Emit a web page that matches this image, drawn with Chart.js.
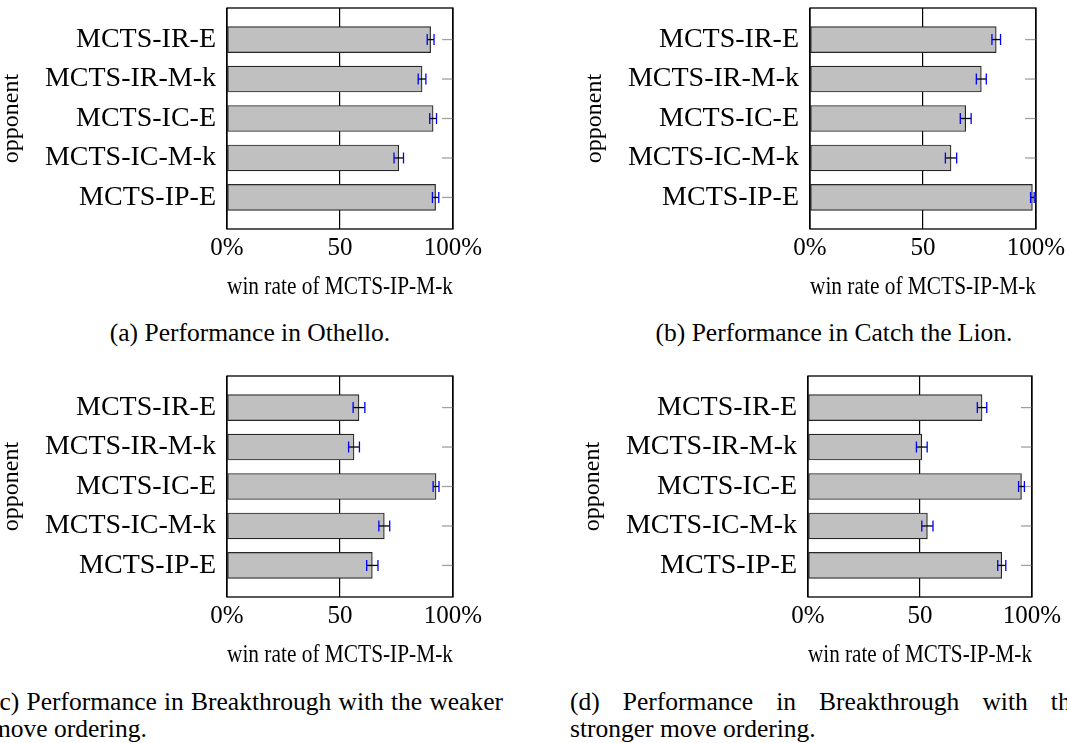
<!DOCTYPE html>
<html><head><meta charset="utf-8">
<script src="https://cdn.jsdelivr.net/npm/chart.js@4.4.1/dist/chart.umd.min.js"></script>
<style>
html,body{margin:0;padding:0;background:#fff;width:1067px;height:743px;overflow:hidden;position:relative;font-family:'Liberation Serif',serif;}
.panel{position:absolute;height:300px;}
.cap{position:absolute;font-size:25.5px;line-height:27px;color:#000;white-space:nowrap;}
.just{text-align:justify;text-align-last:justify;}
</style></head><body>
<div class="panel" style="left:0;top:0;width:533px"><canvas id="ca"></canvas></div>
<div class="panel" style="left:583px;top:0;width:484px"><canvas id="cb"></canvas></div>
<div class="panel" style="left:0;top:368px;width:533px"><canvas id="cc"></canvas></div>
<div class="panel" style="left:581px;top:368px;width:486px"><canvas id="cd"></canvas></div>

<div class="cap" style="left:0;top:319px;width:500px;text-align:center">(a) Performance in Othello.</div>
<div class="cap" style="left:584px;top:319px;width:500px;text-align:center">(b) Performance in Catch the Lion.</div>
<div class="cap" style="left:-9px;top:688px;width:512px"><div class="just">(c) Performance in Breakthrough with the weaker</div><div>move ordering.</div></div>
<div class="cap" style="left:570px;top:688px;width:512px"><div class="just">(d) Performance in Breakthrough with the</div><div>stronger move ordering.</div></div>

<script>
const categories = ['MCTS-IR-E', 'MCTS-IR-M-k', 'MCTS-IC-E', 'MCTS-IC-M-k', 'MCTS-IP-E'];
const xTickValues = [0, 50, 100];
const xTickLabels = ['0%', '50', '100%'];

const othelloWin = [90.1, 86.3, 91.2, 76.0, 92.3];
const othelloErr = [1.5, 1.7, 1.5, 2.1, 1.4];
const lionWin = [82.4, 75.8, 68.9, 62.4, 98.4];
const lionErr = [1.9, 2.2, 2.4, 2.5, 0.8];
const btWeakWin = [58.4, 56.2, 92.5, 69.6, 64.3];
const btWeakErr = [2.6, 2.4, 1.3, 2.4, 2.5];
const btStrongWin = [77.7, 50.8, 95.3, 53.3, 86.5];
const btStrongErr = [2.1, 2.4, 1.3, 2.5, 1.8];

const FONT = "'Liberation Serif', serif";
Chart.defaults.font.family = FONT;
Chart.defaults.color = '#000';

const errorBars = {
  id: 'errorBars',
  afterDatasetsDraw(chart) {
    const {ctx, scales: {x, y}} = chart;
    const ds = chart.data.datasets[0];
    ctx.save();
    ds.data.forEach((p, i) => {
      const yp = y.getPixelForValue(p.y);
      const x1 = x.getPixelForValue(p.x - ds.errors[i]);
      const x2 = x.getPixelForValue(p.x + ds.errors[i]);
      ctx.lineWidth = 1.3;
      ctx.strokeStyle = '#000';
      ctx.beginPath(); ctx.moveTo(x1, yp); ctx.lineTo(x2, yp); ctx.stroke();
      ctx.strokeStyle = '#0000ff';
      ctx.beginPath();
      ctx.moveTo(x1, yp - 5.5); ctx.lineTo(x1, yp + 5.5);
      ctx.moveTo(x2, yp - 5.5); ctx.lineTo(x2, yp + 5.5);
      ctx.stroke();
    });
    ctx.restore();
  }
};

const frame = {
  id: 'frame',
  beforeDatasetsDraw(chart) {
    const {ctx, chartArea: a, scales: {y}} = chart;
    ctx.save();
    ctx.strokeStyle = '#a0a0a0';
    ctx.lineWidth = 1.3;
    y.ticks.forEach(t => {
      const yp = y.getPixelForValue(t.value);
      ctx.beginPath(); ctx.moveTo(a.right - 11, yp); ctx.lineTo(a.right, yp); ctx.stroke();
    });
    ctx.restore();
  },
  afterDraw(chart) {
    const {ctx, chartArea: a} = chart;
    ctx.save();
    ctx.strokeStyle = '#000';
    ctx.lineWidth = 1.3;
    ctx.strokeRect(a.left, a.top, a.right - a.left, a.bottom - a.top);
    ctx.restore();
  }
};

function makeChart(id, values, errors, rightPad) {
  new Chart(document.getElementById(id), {
    type: 'bar',
    data: {
      datasets: [{
        data: values.map((v, i) => ({x: v, y: i})),
        errors: errors,
        backgroundColor: '#c0c0c0',
        borderColor: '#262626',
        borderWidth: 1.2,
        borderSkipped: false,
        barThickness: 26
      }]
    },
    options: {
      indexAxis: 'y',
      responsive: true,
      maintainAspectRatio: false,
      animation: false,
      layout: {padding: {left: 0, right: rightPad, top: 8, bottom: 0}},
      plugins: {legend: {display: false}, tooltip: {enabled: false}},
      scales: {
        x: {
          type: 'linear', min: 0, max: 100, position: 'bottom', z: 1, offset: false,
          afterBuildTicks: s => { s.ticks = xTickValues.map(v => ({value: v})); },
          ticks: {callback: (v, i) => xTickLabels[i], font: {family: FONT, size: 25}, color: '#000', padding: 4, maxRotation: 0, autoSkip: false},
          grid: {color: '#000', lineWidth: 1.2, drawTicks: false, offset: false},
          border: {display: false},
          title: {display: true, text: 'win rate of MCTS-IP-M-k', font: {family: FONT, size: 25, lineHeight: 1}, color: '#000', padding: 0},
          afterFit: s => { s.height = 71; s.paddingLeft = 0; s.paddingRight = 0; }
        },
        y: {
          type: 'linear', min: -0.8, max: 4.8, reverse: true, offset: false,
          afterBuildTicks: s => { s.ticks = categories.map((c, i) => ({value: i})); },
          ticks: {callback: (v, i) => categories[i], font: {family: FONT, size: 28}, color: '#000', padding: 11, autoSkip: false},
          grid: {display: false, drawTicks: false, offset: false},
          border: {display: false},
          title: {display: true, text: 'opponent', font: {family: FONT, size: 24, lineHeight: 1}, color: '#000', padding: 0},
          afterFit: s => { s.width = 227; s.paddingTop = 0; s.paddingBottom = 0; }
        }
      }
    },
    plugins: [frame, errorBars]
  });
}

makeChart('ca', othelloWin, othelloErr, 80);
makeChart('cb', lionWin, lionErr, 31);
makeChart('cc', btWeakWin, btWeakErr, 80);
makeChart('cd', btStrongWin, btStrongErr, 35);
</script>
</body></html>
